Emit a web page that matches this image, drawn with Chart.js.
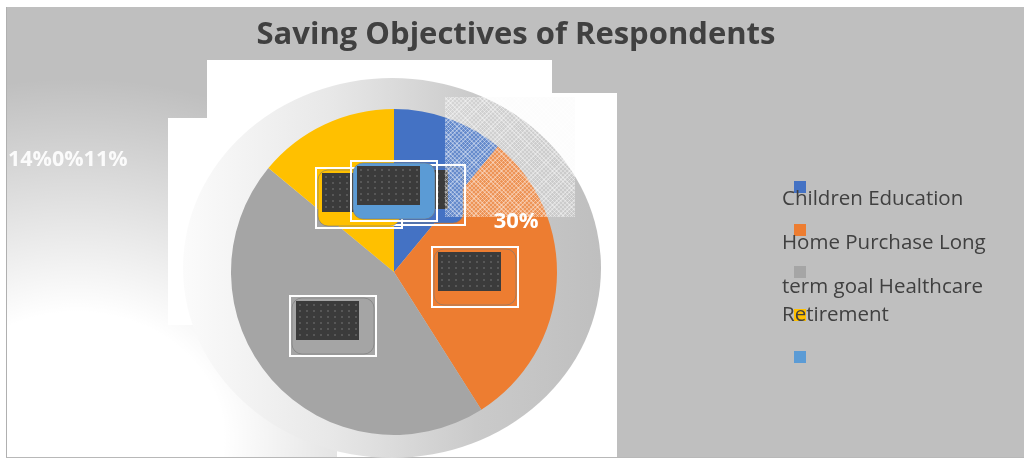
<!DOCTYPE html>
<html>
<head>
<meta charset="utf-8">
<title>Saving Objectives of Respondents</title>
<script src="https://cdn.jsdelivr.net/npm/chart.js@4"></script>
<style>
  html, body { margin:0; padding:0; }
  body { width:1024px; height:461px; overflow:hidden; background:#fff; position:relative; font-family:"Open Sans", sans-serif; }
  #frame { position:absolute; left:6px; top:7px; width:1018px; height:450px; background:#bfbfbf; border-left:1px solid #b0b0b0; border-bottom:1px solid #b8b8b8; }
  .wash { position:absolute; left:7px; top:8px; width:560px; height:449px;
          background:radial-gradient(ellipse 420px 360px at 70px 430px, #fff 35%, rgba(255,255,255,0) 100%); }
  .panel { position:absolute; background:#fff; }
  .ghost { position:absolute; left:183px; top:78px; width:418px; height:380px; border-radius:50%;
           background:linear-gradient(to right, #fbfbfb 0%, #e8e8e8 35%, #cacaca 70%, #bfbfbf 100%); }
  #pie { position:absolute; left:0; top:0; }
  .hatch { position:absolute; left:445px; top:97px; width:130px; height:120px;
           background-image:
             repeating-linear-gradient(45deg, rgba(255,255,255,0.35) 0 1px, rgba(255,255,255,0) 1px 3px),
             repeating-linear-gradient(-45deg, rgba(255,255,255,0.35) 0 1px, rgba(255,255,255,0) 1px 3px),
             linear-gradient(rgba(240,240,240,0.2), rgba(240,240,240,0.2)); }
</style>
</head>
<body>
<div id="frame"></div>
<div class="wash"></div>
<div class="panel" style="left:207px;top:60px;width:345px;height:265px"></div>
<div class="panel" style="left:168px;top:118px;width:40px;height:207px"></div>
<div class="panel" style="left:445px;top:93px;width:172px;height:364px"></div>
<div class="panel" style="left:337px;top:395px;width:110px;height:62px"></div>
<div class="ghost"></div>
<canvas id="pie" width="1024" height="461"></canvas>
<div class="hatch"></div>

<script>
// saving objectives, share of respondents (%)
const categories = ["Children Education", "Home Purchase", "Long term goal", "Healthcare", "Retirement"];
const shares = [11, 30, 45, 14, 0];
const palette = ["#4472C4", "#ED7D31", "#A5A5A5", "#FFC000", "#5B9BD5"];
const titleText = "Saving Objectives of Respondents";
// slices whose percentages are strung together in the loose label on the left
const looseLabelOrder = [3, 4, 0];

const pct = v => v + "%";

// dark data-label boxes sitting on each slice
function labelBox(ctx, cx, cy, fill){
  const x = Math.round(cx - 43), y = Math.round(cy - 30);
  ctx.save();
  ctx.fillStyle = fill;
  ctx.beginPath(); ctx.roundRect(x + 2, y + 2, 82, 56, 10); ctx.fill();
  ctx.strokeStyle = "rgba(120,120,120,0.6)"; ctx.lineWidth = 1; ctx.stroke();
  ctx.strokeStyle = "#fff"; ctx.lineWidth = 2; ctx.strokeRect(x, y, 86, 60);
  ctx.fillStyle = "#3b3b3b"; ctx.fillRect(x + 6, y + 5, 63, 39);
  ctx.fillStyle = "rgba(95,95,95,0.8)";
  for(let yy = y + 8; yy < y + 42; yy += 6)
    for(let xx = x + 9; xx < x + 67; xx += 7) ctx.fillRect(xx, yy, 2, 2);
  ctx.restore();
}

const decorations = {
  id: "decorations",
  afterDatasetsDraw(chart){
    const ctx = chart.ctx;
    const arcs = chart.getDatasetMeta(0).data;

    arcs.forEach((arc, i) => {
      const p = arc.tooltipPosition();
      labelBox(ctx, p.x, p.y, palette[i]);
    });

    // stray "30%" label on the home purchase slice
    const a = arcs[1];
    const ang = a.startAngle + 0.26 * (a.endAngle - a.startAngle);
    const r = a.outerRadius * 0.81;
    ctx.save();
    ctx.fillStyle = "#fff";
    ctx.font = "bold 22px 'Open Sans'";
    ctx.textAlign = "center"; ctx.textBaseline = "middle";
    ctx.fillText(pct(shares[1]), a.x + r * Math.cos(ang), a.y + r * Math.sin(ang));

    // loose percentages on the left
    ctx.globalAlpha = 0.9;
    ctx.font = "bold 21.5px 'Open Sans'";
    ctx.textAlign = "left"; ctx.textBaseline = "alphabetic";
    ctx.fillText(looseLabelOrder.map(i => pct(shares[i])).join(""), 8, 166);
    ctx.restore();

    // title
    ctx.save();
    ctx.fillStyle = "#404040";
    ctx.font = "bold 31px 'Open Sans'";
    ctx.textAlign = "center";
    ctx.fillText(titleText, 516, 44);
    ctx.restore();

    // legend: markers first, then the wrapped label text over them
    ctx.save();
    palette.forEach((c, i) => {
      ctx.fillStyle = c;
      ctx.fillRect(794, 181 + Math.round(i * 42.5), 12, 12);
    });
    ctx.font = "20.5px 'Open Sans'";
    ctx.fillStyle = "#404040";
    const words = categories.join(" ").split(" ");
    const lines = [];
    let line = "";
    words.forEach(w => {
      const test = line ? line + " " + w : w;
      if(ctx.measureText(test).width > 232 && line){ lines.push(line); line = w; }
      else line = test;
    });
    if(line) lines.push(line);
    const baselines = [205, 249, 293, 321];
    lines.forEach((l, i) => ctx.fillText(l, 782, baselines[i] || 321 + (i - 3) * 28));
    ctx.restore();
  }
};

new Chart(document.getElementById("pie"), {
  type: "pie",
  data: {
    labels: categories,
    datasets: [{ data: shares, backgroundColor: palette, borderWidth: 0 }]
  },
  options: {
    responsive: false,
    animation: false,
    layout: { padding: { left: 231, right: 467, top: 109, bottom: 26 } },
    plugins: { legend: { display: false }, tooltip: { enabled: false } }
  },
  plugins: [decorations]
});
</script>
</body>
</html>
